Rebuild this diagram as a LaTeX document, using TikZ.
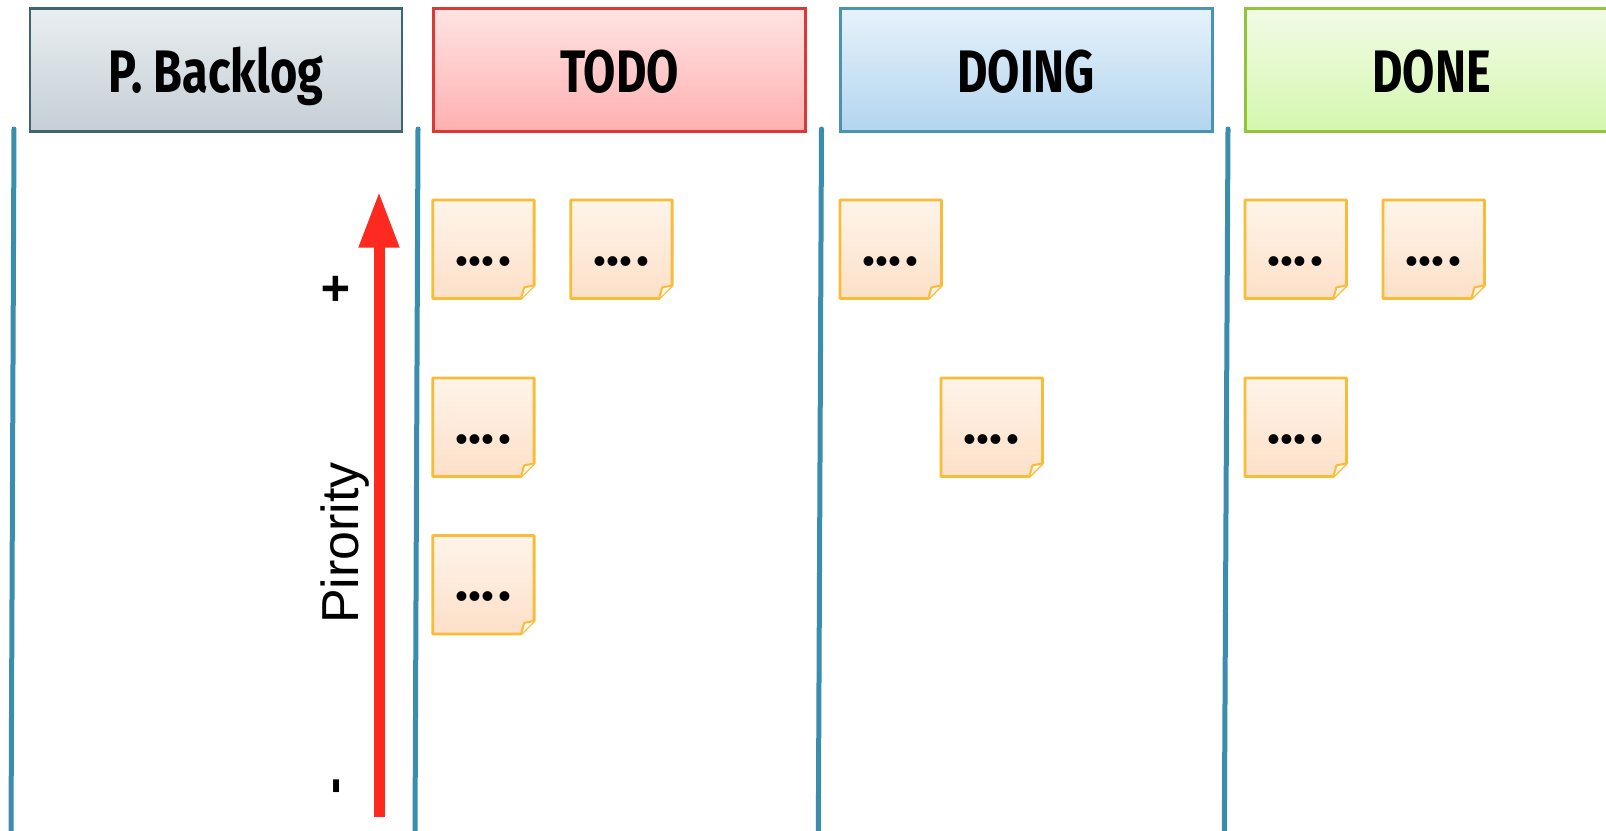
\documentclass[tikz,border=0pt]{standalone}
\usepackage{fontspec}
\setmainfont{Liberation Sans}
\newfontfamily\headfont{Fira Sans}
\usetikzlibrary{arrows.meta}

\definecolor{backtop}{HTML}{E9EEF1}
\definecolor{backbot}{HTML}{C5CFD5}
\definecolor{backline}{HTML}{3F6571}
\definecolor{todotop}{HTML}{FFE3E3}
\definecolor{todobot}{HTML}{FFB0B0}
\definecolor{todoline}{HTML}{D93A36}
\definecolor{doingtop}{HTML}{E6F2FB}
\definecolor{doingbot}{HTML}{B3D5EF}
\definecolor{doingline}{HTML}{4A93B5}
\definecolor{donetop}{HTML}{F2FBE6}
\definecolor{donebot}{HTML}{D4F7AE}
\definecolor{doneline}{HTML}{90C43A}
\definecolor{colline}{HTML}{3B8DAE}
\definecolor{notetop}{HTML}{FEF4EA}
\definecolor{notebot}{HTML}{FDE0C8}
\definecolor{noteline}{HTML}{F9BC36}
\definecolor{notefold}{HTML}{FFF6EE}
\definecolor{prio}{HTML}{FF2A1F}

\pgfdeclarelayer{background}
\pgfsetlayers{background,main}

\tikzset{
  header/.style={anchor=north west, minimum width=372pt, minimum height=123pt,
    inner sep=0pt, line width=2.5pt, text height=44pt, text depth=0pt,
    font=\headfont\bfseries\fontsize{60}{60}\selectfont},
  notebox/.style={anchor=north west, minimum width=101pt, minimum height=98pt,
    inner sep=0pt, text height=34pt, text depth=2pt,
    font=\headfont\bfseries\fontsize{54}{54}\selectfont},
  column/.style={colline, line width=5pt, line cap=round},
  signlabel/.style={rotate=90, inner sep=0pt,
    font=\bfseries\fontsize{50}{50}\selectfont},
}

% a sticky note with a folded lower right corner
\newcommand\stickynote[3]{%
  \node[notebox] (#1) at (#2,#3) {...\kern4pt.};
  \begin{pgfonlayer}{background}
    \shade[top color=notetop, bottom color=notebot, draw=noteline,
      line width=2.8pt, line join=round]
      (#1.north west) -- (#1.north east) -- ([yshift=13pt]#1.south east)
      -- ([xshift=-13pt]#1.south east) -- (#1.south west) -- cycle;
    \filldraw[fill=notefold, draw=noteline, line width=2pt, line join=round]
      ([yshift=13pt]#1.south east) -- ([xshift=-10pt,yshift=11pt]#1.south east)
      -- ([xshift=-13pt]#1.south east);
  \end{pgfonlayer}}

\begin{document}
\begin{tikzpicture}[x=1pt,y=-1pt]
\useasboundingbox (0,0) rectangle (1606,830);
\clip (0,0) rectangle (1606,830);

% column headers
\node[header, top color=backtop, bottom color=backbot, draw=backline]
  (hback) at (28.7,7.3) {\scalebox{0.78}[1]{P. Backlog}};
\node[header, top color=todotop, bottom color=todobot, draw=todoline]
  (htodo) at (432.3,7.3) {\scalebox{0.78}[1]{TODO}};
\node[header, top color=doingtop, bottom color=doingbot, draw=doingline]
  (hdoing) at (839,7.3) {\scalebox{0.78}[1]{DOING}};
\node[header, top color=donetop, bottom color=donebot, draw=doneline]
  (hdone) at (1244.3,7.3) {\scalebox{0.78}[1]{DONE}};

% column separators
\coordinate (c1t) at (14,129);   \coordinate (c1b) at (11,835);
\coordinate (c2t) at (418,129);  \coordinate (c2b) at (415,835);
\coordinate (c3t) at (821.5,129);\coordinate (c3b) at (818.3,835);
\coordinate (c4t) at (1228,129); \coordinate (c4b) at (1224.3,835);
\draw[column] (c1t) -- (c1b);
\draw[column] (c2t) -- (c2b);
\draw[column] (c3t) -- (c3b);
\draw[column] (c4t) -- (c4b);

% priority arrow
\coordinate (plow) at (379,817);
\coordinate (phigh) at (379,191.7);
\draw[prio, line width=11pt, -{Triangle[width=38pt,length=56pt]}] (plow) -- (phigh);
\node[rotate=90, anchor=base, inner sep=0pt, font=\fontsize{52}{52}\selectfont]
  (plabel) at (358,543) {Pirority};
\node[signlabel] (pplus) at (338,289) {+};
\node[signlabel] (pminus) at (342,786) {-};

% TODO cards
\stickynote{t1}{432.7}{200}
\stickynote{t2}{570.7}{200}
\stickynote{t3}{432.7}{378}
\stickynote{t4}{432.7}{535.5}

% DOING cards
\stickynote{d1}{840}{200}
\stickynote{d2}{941}{378}

% DONE cards
\stickynote{n1}{1245}{200}
\stickynote{n2}{1383}{200}
\stickynote{n3}{1245}{378}
\end{tikzpicture}
\end{document}
